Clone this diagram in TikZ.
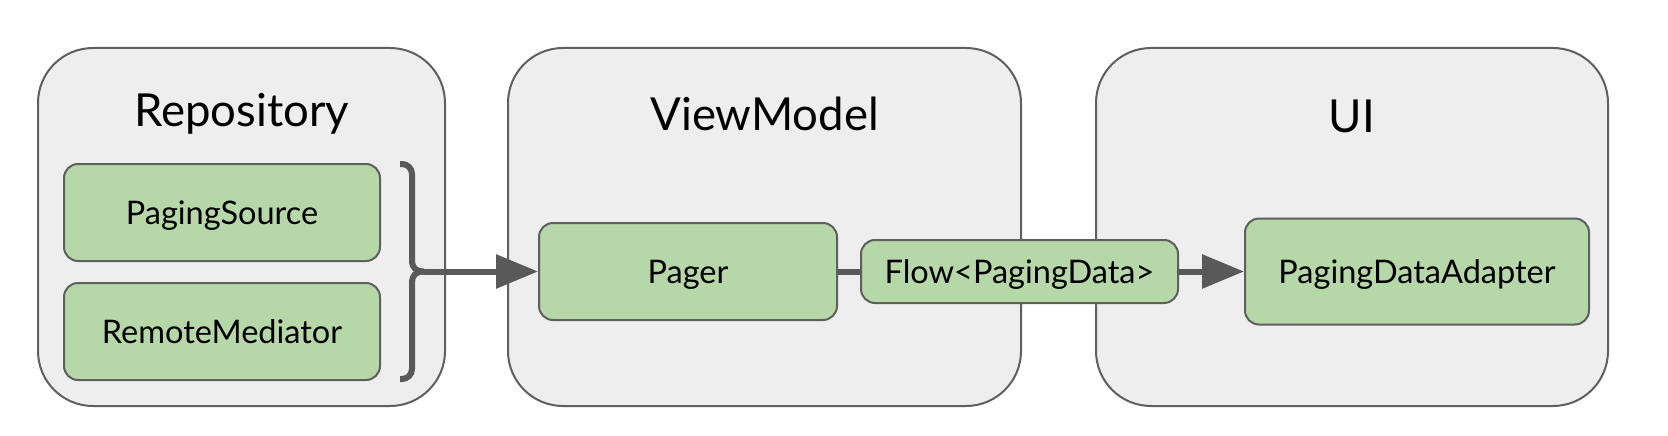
\documentclass[tikz,border=0pt]{standalone}
\usepackage{fontspec}
\setmainfont{Lato}
\usetikzlibrary{arrows.meta}
\definecolor{boxgray}{HTML}{EEEEEE}
\definecolor{edgegray}{HTML}{5F5F5F}
\definecolor{leafgreen}{HTML}{B6D7A8}
\definecolor{arrowgray}{HTML}{595959}
\begin{document}
\begin{tikzpicture}[x=1pt, y=-1pt,
    layer/.style={draw=edgegray, fill=boxgray, line width=2pt, rounded corners=55pt},
    part/.style={draw=edgegray, fill=leafgreen, line width=2pt, rounded corners=14pt,
        text depth=0pt, font=\fontsize{32.5}{36}\selectfont},
    heading/.style={font=\fontsize{45.5}{50}\selectfont},
    flowline/.style={draw=arrowgray, line width=6pt},
    tip/.style={-{Triangle[length=42pt, width=33pt]}}]
    \useasboundingbox (0, 0) rectangle (1668, 436);
    % the three layers
    \node[layer, minimum width=407pt, minimum height=358pt] (repo) at (241.5, 227) {};
    \node[layer, minimum width=513pt, minimum height=358pt] (vm) at (764.5, 227) {};
    \node[layer, minimum width=512pt, minimum height=358pt] (ui) at (1352, 227) {};
    \node[heading] (repotitle) at (241.5, 114) {Repository};
    \node[heading] (vmtitle) at (764.5, 114) {ViewModel};
    \node[heading] (uititle) at (1352, 116) {UI};
    % the parts
    \node[part, minimum width=316pt, minimum height=97pt] (source) at (222, 212.5) {PagingSource};
    \node[part, minimum width=316pt, minimum height=97pt] (mediator) at (222, 331.5) {RemoteMediator};
    \node[part, minimum width=298pt, minimum height=97pt] (pager) at (688, 271.5) {Pager};
    \node[part, minimum width=317pt, minimum height=63pt] (flow) at (1019.5, 271.5) {Flow<PagingData>};
    \node[part, minimum width=344pt, minimum height=106pt] (adapter) at (1417, 271.5) {PagingDataAdapter};
    % brace round the two sources
    \coordinate (bracetop) at (400, 164);
    \coordinate (bracebot) at (400, 379);
    \coordinate (bracetip) at (424, 271.5);
    \draw[flowline, rounded corners=10pt] (bracetop) -| (412, 271.5) -- (bracetip);
    \draw[flowline, rounded corners=10pt] (bracebot) -| (412, 271.5) -- (bracetip);
    % data flow
    \draw[flowline, tip] (bracetip) -- (pager.west);
    \draw[flowline] (pager.east) -- (flow.west);
    \draw[flowline, tip] (flow.east) -- (adapter.west);
\end{tikzpicture}
\end{document}
